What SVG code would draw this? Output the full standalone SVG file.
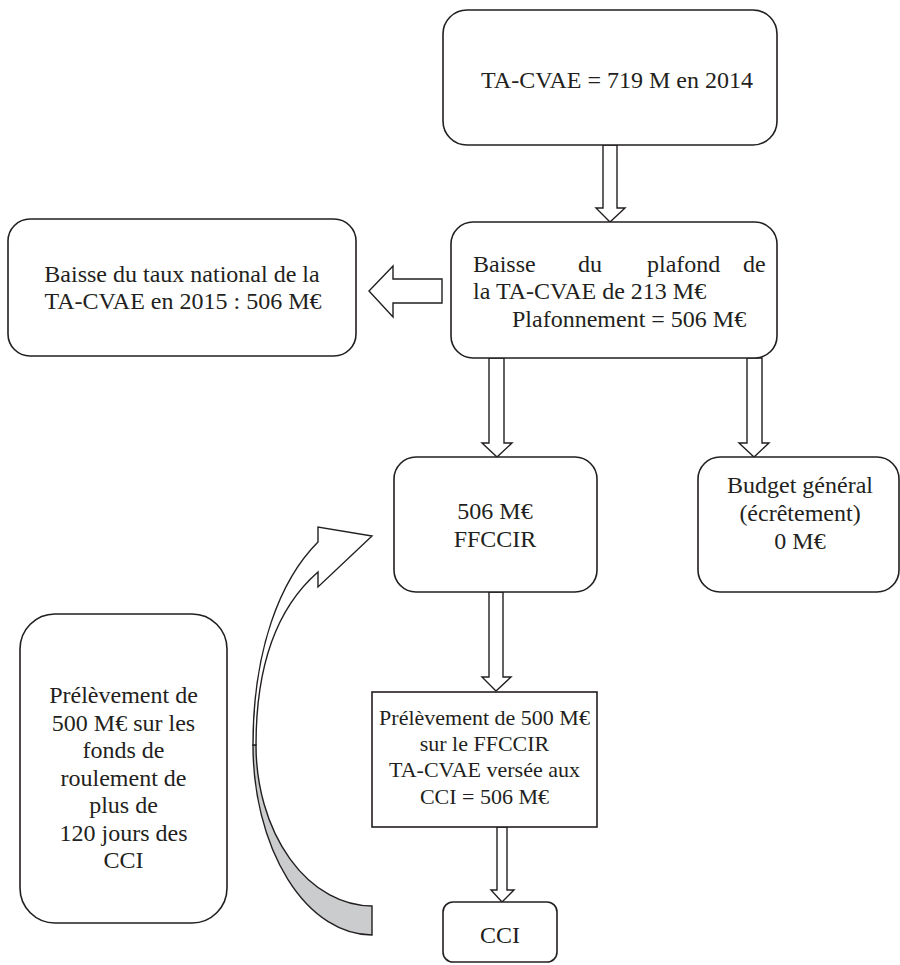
<svg xmlns="http://www.w3.org/2000/svg" width="900" height="965" viewBox="0 0 900 965" font-family="Liberation Serif, serif" font-size="24">
<style>
.box{fill:#fff;stroke:#231f20;stroke-width:1.6}
.arr{fill:#fff;stroke:#231f20;stroke-width:1.4;stroke-linejoin:miter}
text{fill:#231f20}
.m{text-anchor:middle}
.s{font-size:22px}
</style>
<rect width="900" height="965" fill="#fff"/>
<g id="connectors">
<polygon class="arr" points="603,145 617,145 617,208 625,208 610,222 596,208 603,208"/>
<polygon class="arr" points="442,279 442,303 393,303 393,317 369,291 393,266 393,279"/>
<polygon class="arr" points="489,358 504,358 504,443 512,443 497,457 482,443 489,443"/>
<polygon class="arr" points="747,358 762,358 762,443 769,443 754,457 739,443 747,443"/>
<polygon class="arr" points="489,592 503,592 503,677 511,677 496,691 482,677 489,677"/>
<polygon class="arr" points="497,827 507,827 507,890 514,890 502,902 491,890 497,890"/>
<path d="M253,745 A119,190 0 0 0 372,935 L372,906 A116,161 0 0 1 256,745 Z" fill="#cbcccd" stroke="#231f20" stroke-width="1.4"/>
<path class="arr" d="M253,745 C253,650 280,580 318,542 L318,527 L372,536 L318,587 L318,572 C280,605 256,660 256,745 Z"/>
</g>
<g id="n1">
<rect class="box" x="443" y="10" width="334" height="135" rx="24"/>
<text class="m" x="617" y="88">TA-CVAE = 719 M en 2014</text>
</g>
<g id="n2">
<rect class="box" x="451" y="222" width="326" height="136" rx="22"/>
<text y="272"><tspan x="473">Baisse</tspan><tspan x="578">du</tspan><tspan x="647">plafond</tspan><tspan x="743">de</tspan></text>
<text x="473" y="299">la TA-CVAE de 213 M€</text>
<text x="512" y="327">Plafonnement = 506 M€</text>
</g>
<g id="n3">
<rect class="box" x="8" y="219" width="348" height="137" rx="22"/>
<text class="m" x="182" y="282">Baisse du taux national de la</text>
<text class="m" x="183" y="309">TA-CVAE en 2015 : 506 M€</text>
</g>
<g id="n4">
<rect class="box" x="394" y="457" width="203" height="135" rx="22"/>
<text class="m" x="495" y="519">506 M€</text>
<text class="m" x="495" y="547">FFCCIR</text>
</g>
<g id="n5">
<rect class="box" x="698" y="457" width="201" height="135" rx="22"/>
<text class="m" x="800" y="493">Budget général</text>
<text class="m" x="800" y="521">(écrêtement)</text>
<text class="m" x="800" y="549">0 M€</text>
</g>
<g id="n6">
<rect class="box" x="20" y="614" width="207" height="309" rx="35"/>
<text class="m" x="123.5" y="703">Prélèvement de</text>
<text class="m" x="123.5" y="730.5">500 M€ sur les</text>
<text class="m" x="123.5" y="758">fonds de</text>
<text class="m" x="123.5" y="785.5">roulement de</text>
<text class="m" x="123.5" y="813">plus de</text>
<text class="m" x="123.5" y="840.5">120 jours des</text>
<text class="m" x="123.5" y="868">CCI</text>
</g>
<g id="n7">
<rect class="box" x="372" y="692" width="225" height="135"/>
<text class="m s" x="484.5" y="725">Prélèvement de 500 M€</text>
<text class="m s" x="484.5" y="751">sur le FFCCIR</text>
<text class="m s" x="484.5" y="777">TA-CVAE versée aux</text>
<text class="m s" x="484.5" y="804">CCI = 506 M€</text>
</g>
<g id="n8">
<rect class="box" x="443" y="902" width="114" height="60" rx="10"/>
<text class="m" x="500" y="943">CCI</text>
</g>
</svg>
